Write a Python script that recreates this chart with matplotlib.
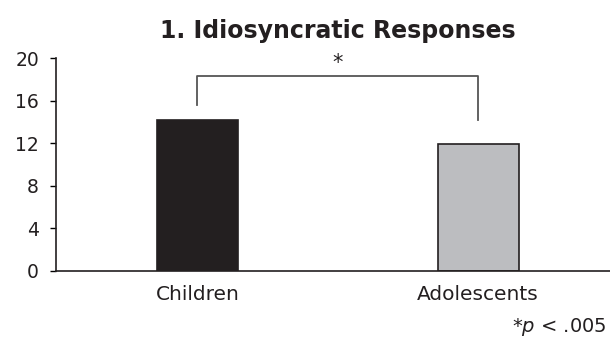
import matplotlib
matplotlib.use("Agg")
import matplotlib.pyplot as plt

groups = ["Children", "Adolescents"]
means = [14.2, 11.9]
bar_colors = ["#231f20", "#bcbdc0"]
yticks = [0, 4, 8, 12, 16, 20]

plt.rcParams["font.family"] = "DejaVu Sans"
fig = plt.figure(figsize=(6.10, 3.39), dpi=100)
ax = fig.add_axes([56/610, 1 - 271/339, 554/610, 213/339])

x = list(range(len(groups)))
ax.bar(x, means, width=0.288, color=bar_colors, edgecolor="#231f20", linewidth=1.2)

ax.set_xlim(-0.504, 1.47)
ax.set_ylim(0, 20)
ax.set_yticks(yticks)
ax.set_xticks(x)
ax.set_xticklabels(groups, fontsize=14.5, color="#231f20")
ax.tick_params(axis="x", length=0, pad=10)
ax.tick_params(axis="y", length=4.3, width=1, labelsize=13.5, labelcolor="#231f20", pad=8)
for s in ["top", "right"]:
    ax.spines[s].set_visible(False)
for s in ["left", "bottom"]:
    ax.spines[s].set_linewidth(1.2)
    ax.spines[s].set_color("#231f20")

# significance bracket between the two groups
ax.plot([0, 0, 1, 1], [15.6, 18.3, 18.3, 14.2], color="#555555", lw=1.3, clip_on=False)
ax.text(0.5, 18.55, "*", ha="center", va="bottom", fontsize=15, color="#231f20")

fig.text(338/610, 1 - 31/339, "1. Idiosyncratic Responses", ha="center", va="center",
         fontsize=17, fontweight="bold", color="#231f20")
fig.text(607/610, 1 - 327/339, r"*$\it{p}$ < .005", ha="right", va="center",
         fontsize=14, color="#231f20")

fig.savefig("out.png", dpi=100)
